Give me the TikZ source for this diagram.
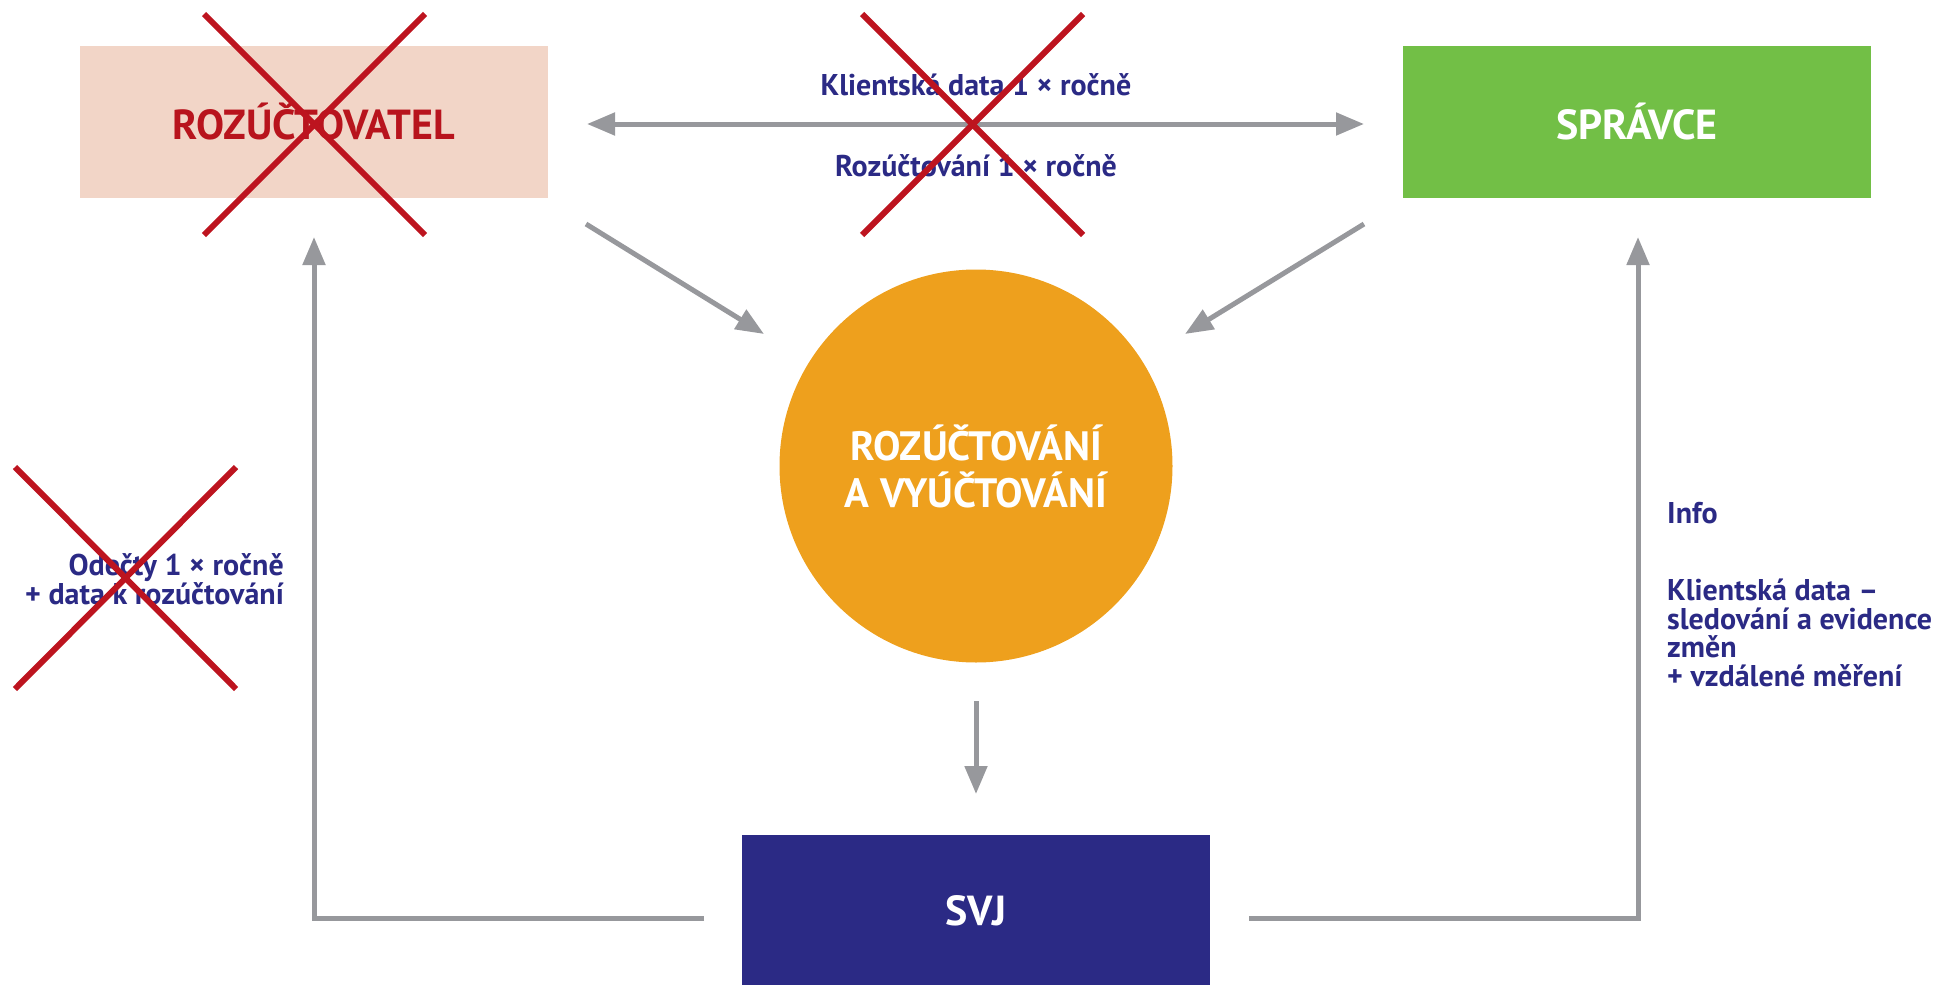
\documentclass[tikz,border=0pt]{standalone}
\usepackage{fontspec}
\setmainfont{PT Sans}
\usetikzlibrary{arrows.meta}
\definecolor{peach}{HTML}{F2D5C7}
\definecolor{rtext}{HTML}{B8141D}
\definecolor{xred}{HTML}{BD141F}
\definecolor{sgreen}{HTML}{72BF46}
\definecolor{sorange}{HTML}{EEA01D}
\definecolor{snavy}{HTML}{2B2A85}
\definecolor{agray}{HTML}{97989C}
\begin{document}
\begin{tikzpicture}[x=1pt,y=-1pt,
  box/.style={rectangle, minimum width=468pt, minimum height=152pt, inner sep=0pt, font=\bfseries\fontsize{42}{48}\selectfont},
  conn/.style={draw=agray, line width=5pt, -{Triangle[length=28pt,width=22pt]}},
  conntwo/.style={draw=agray, line width=5pt, {Triangle[length=28pt,width=22pt]}-{Triangle[length=28pt,width=22pt]}},
  cross/.style={draw=xred, line width=6pt},
  lbl/.style={text=snavy, font=\bfseries\fontsize{30}{28.5}\selectfont, inner sep=0pt}]
\useasboundingbox (0,0) rectangle (1939,985);
% nodes
\node[box, fill=peach, text=rtext] (rozu) at (314,122) {ROZÚČTOVATEL};
\node[box, fill=sgreen, text=white] (spravce) at (1637,122) {SPRÁVCE};
\node[box, fill=snavy, text=white] (svj) at (976,911) {SVJ};
\node[circle, fill=sorange, minimum size=393pt, inner sep=0pt, text=white, align=center,
      font=\bfseries\fontsize{41}{47}\selectfont] (circ) at (976,466) {ROZÚČTOVÁNÍ\\A VYÚČTOVÁNÍ};
% labels
\node[lbl] (l1) at (976,85) {Klientská data 1 × ročně};
\node[lbl] (l2) at (976,166) {Rozúčtování 1 × ročně};
\node[lbl, anchor=east, align=right] (l3) at (284,579) {Odečty 1 × ročně\\+ data k rozúčtování};
\node[lbl, anchor=base west] (l4) at (1667,523) {Info};
\node[lbl, anchor=north west, align=left] (l5) at (1667,579) {Klientská data –\\sledování a evidence\\změn\\+ vzdálené měření};
% connector endpoints
\coordinate (hL) at (587,124);
\coordinate (hR) at (1364,124);
\coordinate (dl1) at (586,224);
\coordinate (dl2) at (764,334);
\coordinate (dr1) at (1364,224);
\coordinate (dr2) at (1185,334);
\coordinate (dn1) at (976,701);
\coordinate (dn2) at (976,794);
\coordinate (svjL) at (704,918);
\coordinate (cornL) at (314,918);
\coordinate (upL) at (314,237);
\coordinate (svjR) at (1249,918);
\coordinate (cornR) at (1638,918);
\coordinate (upR) at (1638,237);
% connectors
\draw[conntwo] (hL) -- (hR);
\draw[conn] (dl1) -- (dl2);
\draw[conn] (dr1) -- (dr2);
\draw[conn] (dn1) -- (dn2);
\draw[conn] (svjL) -- (cornL) -- (upL);
\draw[conn] (svjR) -- (cornR) -- (upR);
% crosses
\draw[cross] (204,14) -- (425,235);
\draw[cross] (425,14) -- (204,235);
\draw[cross] (862,14) -- (1083,235);
\draw[cross] (1083,14) -- (862,235);
\draw[cross] (15,467) -- (236,689);
\draw[cross] (236,467) -- (15,689);
\end{tikzpicture}
\end{document}
